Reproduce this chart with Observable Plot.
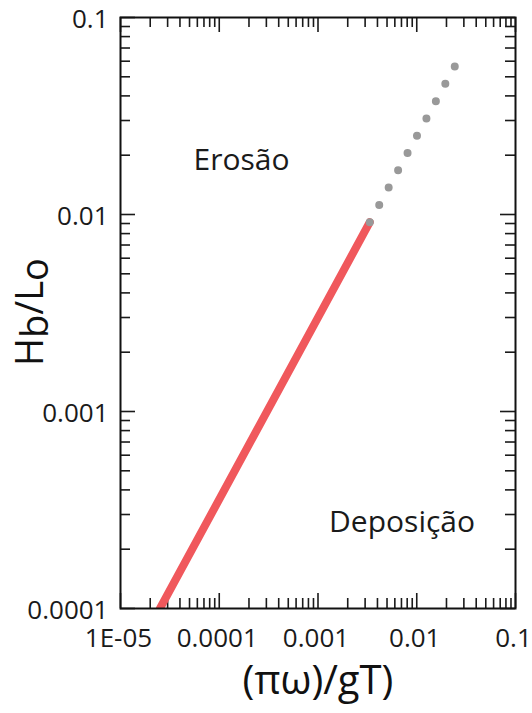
<!DOCTYPE html>
<html><head><meta charset="utf-8">
<script src="https://cdn.jsdelivr.net/npm/d3@7"></script>
<script src="https://cdn.jsdelivr.net/npm/@observablehq/plot@0.6"></script>
<style>body{margin:0;background:#fff}</style>
</head><body><div id="chart"></div>
<script>
// ---- data ----
const xTickValues = [1e-5, 1e-4, 1e-3, 1e-2, 1e-1];
const xTickLabels = ["1E-05", "0.0001", "0.001", "0.01", "0.1"];
const yTickValues = [1e-4, 1e-3, 1e-2, 1e-1];
const yTickLabels = ["0.0001", "0.001", "0.01", "0.1"];
const boundaryX = [2.51e-5, 0.003345];      // solid red segment
const boundaryY = [1e-4, 0.00914];
const extrapX = [0.003345, 0.02428];         // dotted grey extension
const extrapY = [0.00914, 0.05639];
const regionLabels = ["Erosão", "Deposição"];
const regionX = [1.68e-4, 7.1e-3];
const regionY = [0.0188, 2.74e-4];
const xTitle = "(πω)/gT)";

// ---- layout ----
const W = 532, H = 713, ML = 120, MR = 17, MT = 17, MB = 105;
const innerW = W - ML - MR, innerH = H - MT - MB;
const majorLen = 15, minorLen = 10, tickColor = "#1a1a1a", tickW = 1.6;

const minorOf = vals => vals.slice(0, -1).flatMap(d => [2,3,4,5,6,7,8,9].map(k => d * k));
const xMinor = minorOf(xTickValues);
const yMinor = minorOf(yTickValues);

const boundary = boundaryX.map((x, i) => ({x, y: boundaryY[i]}));
const extrap = extrapX.map((x, i) => ({x, y: extrapY[i]}));
const regions = regionLabels.map((t, i) => ({t, x: regionX[i], y: regionY[i]}));

const tickMarks = (vals, len) => [
  Plot.ruleX(vals, {x: d => d, insetTop: innerH - len, stroke: tickColor, strokeWidth: tickW}),
  Plot.ruleX(vals, {x: d => d, insetBottom: innerH - len, stroke: tickColor, strokeWidth: tickW}),
];
const tickMarksY = (vals, len) => [
  Plot.ruleY(vals, {y: d => d, insetRight: innerW - len, stroke: tickColor, strokeWidth: tickW}),
  Plot.ruleY(vals, {y: d => d, insetLeft: innerW - len, stroke: tickColor, strokeWidth: tickW}),
];

const plot = Plot.plot({
  width: W, height: H,
  marginLeft: ML, marginRight: MR, marginTop: MT, marginBottom: MB,
  style: {fontFamily: "'Open Sans', sans-serif", fontSize: "26px", color: "#1a1a1a", background: "#fff"},
  x: {type: "log", domain: [xTickValues[0], xTickValues[xTickValues.length - 1]]},
  y: {type: "log", domain: [yTickValues[0], yTickValues[yTickValues.length - 1]]},
  marks: [
    ...tickMarks(xMinor, minorLen),
    ...tickMarks(xTickValues, majorLen),
    ...tickMarksY(yMinor, minorLen),
    ...tickMarksY(yTickValues, majorLen),
    Plot.line(boundary, {x: "x", y: "y", stroke: "#f0585c", strokeWidth: 8, clip: "frame"}),
    Plot.line(extrap, {x: "x", y: "y", stroke: "#999999", strokeWidth: 8,
      strokeLinecap: "round", strokeDasharray: "0 19.7"}),
    Plot.text(regions, {x: "x", y: "y", text: "t", fontSize: 30, fill: "#1a1a1a"}),
    Plot.frame({stroke: "#111", strokeWidth: 2}),
    Plot.axisX({ticks: xTickValues, tickFormat: d => xTickLabels[xTickValues.indexOf(d)],
      tickSize: 0, tickPadding: 20, fontSize: 26, label: null, dx: -2}),
    Plot.axisY({ticks: yTickValues, tickFormat: d => yTickLabels[yTickValues.indexOf(d)],
      tickSize: 0, tickPadding: 12, fontSize: 26, label: null, dy: 2}),
    Plot.text([xTitle], {frameAnchor: "bottom", dy: 85, fontSize: 40, fill: "#111"})
  ]
});

// y-axis title with subscripts
const svg = d3.select(plot);
const t = svg.append("text")
  .attr("transform", "translate(43,312) rotate(-90)")
  .attr("text-anchor", "middle")
  .attr("font-family", "'Open Sans', sans-serif")
  .attr("font-size", 38)
  .attr("fill", "#111");
t.append("tspan").text("H");
t.append("tspan").attr("dy", 5).text("b");
t.append("tspan").attr("dy", -5).text("/L");
t.append("tspan").attr("dy", 5).text("o");

document.getElementById("chart").appendChild(plot);
</script>
</body></html>
